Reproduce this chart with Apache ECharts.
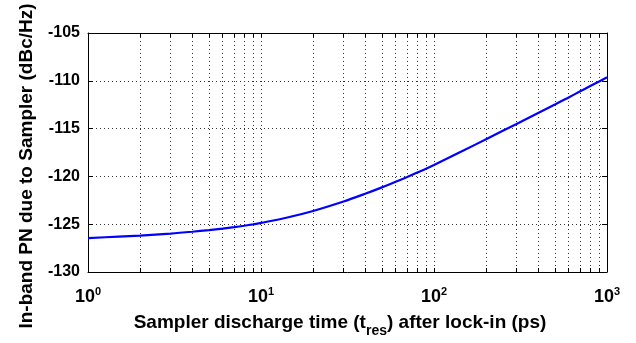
<!DOCTYPE html>
<html>
<head>
<meta charset="utf-8">
<script src="https://cdn.jsdelivr.net/npm/echarts@6/dist/echarts.min.js"></script>
<style>
html,body{margin:0;padding:0;background:#fff;}
#c{width:636px;height:343px;}
</style>
</head>
<body>
<div id="c"></div>
<script>
// Data
const tres = [1, 1.5, 2, 3, 4, 5, 6, 7, 8, 9, 10, 14, 20, 30, 40, 50, 60, 70, 80, 90, 100, 124, 150, 200, 300, 400, 500, 600, 700, 800, 900, 1000];
const pn = [-126.45, -126.3, -126.19, -125.98, -125.79, -125.62, -125.46, -125.31, -125.16, -125.01, -124.86, -124.33, -123.62, -122.63, -121.82, -121.15, -120.57, -120.06, -119.6, -119.19, -118.8, -117.98, -117.24, -116.11, -114.51, -113.37, -112.49, -111.74, -111.1, -110.55, -110.07, -109.63];
const xTickValues = [1,2,3,4,5,6,7,8,9,10,20,30,40,50,60,70,80,90,100,200,300,400,500,600,700,800,900,1000];
const xLabelValues = [1, 10, 100, 1000];
const yTicks = [-130, -125, -120, -115, -110, -105];

const font = 'Liberation Sans, Arial, sans-serif';
const chart = echarts.init(document.getElementById('c'), null, {renderer: 'canvas'});
const data = tres.map((t, i) => [t, pn[i]]);
const gridLine = {show: true, lineStyle: {color: '#333', width: 1, type: [1, 3]}};

chart.setOption({
  animation: false,
  backgroundColor: '#fff',
  grid: {left: 88, right: 29, top: 33, bottom: 68, containLabel: false},
  xAxis: [{
    type: 'log', logBase: 10, min: 1, max: 1000, position: 'bottom',
    name: 'Sampler discharge time (t{sub|res}) after lock-in (ps)',
    nameLocation: 'middle', nameGap: 35,
    nameTextStyle: {fontFamily: font, fontSize: 19, fontWeight: 'bold', color: '#000', padding: [0, 15, 0, 0],
      rich: {sub: {fontFamily: font, fontSize: 14, fontWeight: 'bold', color: '#000', padding: [17, 0, 0, 0]}}},
    axisLine: {show: true, onZero: false, lineStyle: {color: '#000', width: 1}},
    axisTick: {show: true, inside: true, length: 4, customValues: xTickValues, lineStyle: {color: '#000'}},
    axisLabel: {show: true, customValues: xLabelValues, margin: 14, color: '#000',
      formatter: v => '{b|10}{s|' + Math.round(Math.log10(v)) + '}',
      rich: {b: {fontFamily: font, fontSize: 18, fontWeight: 'bold', color: '#000', lineHeight: 22},
             s: {fontFamily: font, fontSize: 11, fontWeight: 'bold', color: '#000', verticalAlign: 'top', lineHeight: 22, padding: [0,0,10,0]}}},
    splitLine: gridLine,
    minorTick: {show: false}
  }, {
    type: 'log', logBase: 10, min: 1, max: 1000, position: 'top',
    axisLine: {show: true, onZero: false, lineStyle: {color: '#000', width: 1}},
    axisTick: {show: true, inside: true, length: 4, customValues: xTickValues, lineStyle: {color: '#000'}},
    axisLabel: {show: false},
    splitLine: {show: false}
  }],
  yAxis: [{
    type: 'value', min: -130, max: -105, interval: 5, position: 'left',
    name: 'In-band PN due to Sampler (dBc/Hz)',
    nameLocation: 'middle', nameGap: 52, nameRotate: 90,
    nameTextStyle: {fontFamily: font, fontSize: 19, fontWeight: 'bold', color: '#000', padding: [0, 27, 0, 0]},
    axisLine: {show: true, onZero: false, lineStyle: {color: '#000', width: 1}},
    axisTick: {show: true, inside: true, length: 5, lineStyle: {color: '#000'}},
    axisLabel: {show: true, margin: 8, fontFamily: font, fontSize: 16, fontWeight: 'bold', color: '#000',
      customValues: yTicks},
    splitLine: gridLine
  }, {
    type: 'value', min: -130, max: -105, interval: 5, position: 'right',
    axisLine: {show: true, onZero: false, lineStyle: {color: '#000', width: 1}},
    axisTick: {show: true, inside: true, length: 5, lineStyle: {color: '#000'}},
    axisLabel: {show: false},
    splitLine: {show: false}
  }],
  series: [{
    type: 'line', xAxisIndex: 0, yAxisIndex: 0,
    data: data, smooth: 0.3, showSymbol: false, symbol: 'none',
    lineStyle: {color: '#0000ff', width: 2.2}
  }]
});
</script>
</body>
</html>
